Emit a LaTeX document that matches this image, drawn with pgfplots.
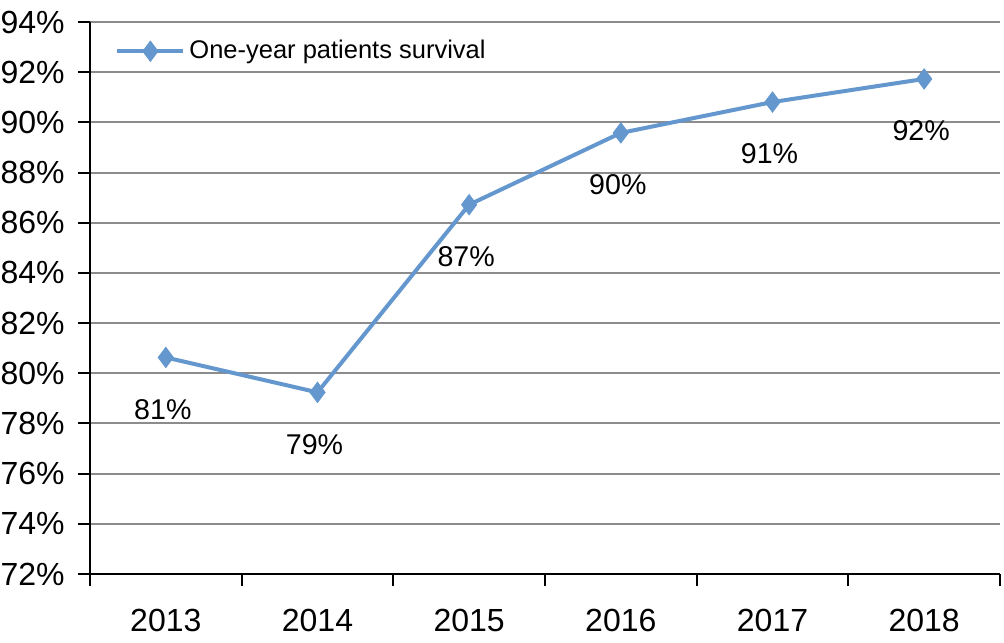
\documentclass[border=0pt]{standalone}
\usepackage{pgfplots}
\pgfplotsset{compat=1.18}
\usepackage{fontspec}
\setmainfont{Liberation Sans}
\definecolor{lineblue}{RGB}{100,151,206}
\definecolor{gridgray}{RGB}{140,140,140}
\begin{document}
\begin{tikzpicture}
\begin{axis}[
  name=ax,
  scale only axis,
  width=455pt, height=276pt,
  xmin=-0.5, xmax=5.5,
  ymin=72, ymax=94,
  xtick={-0.5,0.5,...,5.5},
  x tick label as interval,
  xticklabels={2013,2014,2015,2016,2017,2018},
  ytick={72,74,...,94},
  yticklabel={\pgfmathprintnumber{\tick}\%},
  /pgf/number format/assume math mode=true,
  axis x line*=bottom,
  axis y line*=left,
  axis line style={-, black, line width=1pt},
  tick style={black, line width=1pt},
  tick align=outside,
  major tick length=6pt,
  ymajorgrids,
  major grid style={gridgray, line width=1pt},
  tick label style={font=\fontsize{16}{19}\selectfont, inner sep=0pt},
  yticklabel style={xshift=-6.5pt},
  xticklabel style={yshift=-11.5pt},
  legend style={draw=none, fill=none, at={(0.0275,0.947)}, anchor=west,
    font=\fontsize{12.75}{15}\selectfont, inner sep=0pt},
  legend image code/.code={\draw[mark repeat=2,mark phase=2,#1] plot coordinates {(0pt,0pt) (16.5pt,0pt) (33pt,0pt)};},
  clip=false,
]
\addplot[lineblue, line width=2pt, mark=diamond*, mark size=5pt,
  mark options={fill=lineblue, draw=lineblue, line width=0.5pt},
  point meta=explicit symbolic,
  nodes near coords,
  nodes near coords style={anchor=center, yshift=-26pt, xshift=-1.5pt, black, font=\fontsize{14.3}{17}\selectfont}]
coordinates {
 (0,80.63) [81\%]
 (1,79.24) [79\%]
 (2,86.72) [87\%]
 (3,89.58) [90\%]
 (4,90.81) [91\%]
 (5,91.73) [92\%]
};
\addlegendentry{One-year patients survival}
\end{axis}
\pgfresetboundingbox
\path ([xshift=-45pt,yshift=-34pt]ax.south west) rectangle ([xshift=2pt,yshift=11pt]ax.north east);
\end{tikzpicture}
\end{document}
